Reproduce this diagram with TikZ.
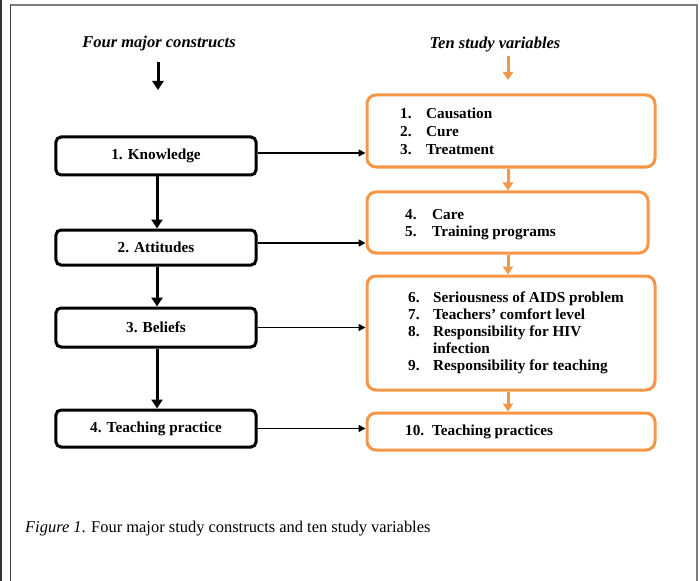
\documentclass[tikz,border=0pt]{standalone}
\usepackage{fontspec}
\setmainfont{Liberation Serif}
\usetikzlibrary{arrows.meta}
\definecolor{orng}{RGB}{247,150,70}
\definecolor{frm}{RGB}{125,125,125}
\begin{document}
\begin{tikzpicture}[x=1bp,y=-1bp,
 cbox/.style={draw=black, line width=3bp, rounded corners=5bp, minimum width=200bp, inner sep=0pt, font=\bfseries\fontsize{15.3}{17}\selectfont},
 vbox/.style={draw=orng, line width=3bp, rounded corners=9bp, inner sep=0pt},
 blarrow/.style={line width=3bp, -{Triangle[width=11bp,length=9bp]}},
 orarrow/.style={draw=orng, line width=3bp, -{Triangle[width=10bp,length=8bp]}},
 harrow/.style={line width=1.5bp, -{Triangle[width=7bp,length=7bp]}},
 lst/.style={anchor=base west, inner sep=0pt, font=\bfseries\fontsize{15.3}{18}\selectfont},
 hdr/.style={anchor=base, inner sep=0pt, font=\bfseries\itshape\fontsize{16.6}{18}\selectfont},
]
\useasboundingbox (0,0) rectangle (700,581);
% frame
\draw[line width=1.5bp, black!80] (1,0) -- (1,581);
\draw[line width=1.5bp, frm] (10.5,581) -- (10.5,5) -- (697,5) -- (697,581);
\draw[line width=1.5bp, black!75] (10.5,581) -- (10.5,5);

% headers
\node[hdr] (h1) at (159,48) {Four major constructs};
\node[hdr] (h2) at (495,49) {Ten study variables};
\coordinate (h1s) at (158,62);
\coordinate (h1e) at (158,90);
\coordinate (h2s) at (508,56);
\coordinate (h2e) at (508,80);
\draw[blarrow] (h1s) -- (h1e);
\draw[orarrow] (h2s) -- (h2e);

% left constructs
\node[cbox, minimum height=38bp] (k) at (156,156) {1. Knowledge};
\node[cbox, minimum height=35bp] (a) at (156,247.5) {2. Attitudes};
\node[cbox, minimum height=39bp] (b) at (156,327.5) {3. Beliefs};
\node[cbox, minimum height=37bp] (t) at (156,428.5) {4. Teaching practice};

\draw[blarrow] ([xshift=1bp]k.south) -- ([xshift=1bp]a.north);
\draw[blarrow] ([xshift=1bp]a.south) -- ([xshift=1bp]b.north);
\draw[blarrow] ([xshift=1bp]b.south) -- ([xshift=1bp]t.north);

% right variables
\node[vbox, minimum width=288bp, minimum height=72bp] (v1) at (511,131) {};
\node[vbox, minimum width=281bp, minimum height=61bp] (v2) at (507.5,222.5) {};
\node[vbox, minimum width=288bp, minimum height=114bp] (v3) at (511,333) {};
\node[vbox, minimum width=288bp, minimum height=37bp] (v4) at (511,431.5) {};

\node[lst] (v1t) at (400,119) {\begin{tabular}[t]{@{}p{26bp}@{}l@{}}
1. & Causation\\
2. & Cure\\
3. & Treatment
\end{tabular}};
\node[lst] (v2t) at (405,219) {\begin{tabular}[t]{@{}p{27bp}@{}l@{}}
4. & Care\\
5. & Training programs
\end{tabular}};
\node[lst, font=\bfseries\fontsize{15.3}{17.3}\selectfont] (v3t) at (408,302) {\begin{tabular}[t]{@{}p{25bp}@{}l@{}}
6. & Seriousness of AIDS problem\\
7. & Teachers’ comfort level\\
8. & Responsibility for HIV\\
   & infection\\
9. & Responsibility for teaching
\end{tabular}};
\node[lst] (v4t) at (405,435) {\begin{tabular}[t]{@{}p{27bp}@{}l@{}}
10. & Teaching practices
\end{tabular}};

\draw[orarrow] (v1.south -| h2e) -- (v2.north -| h2e);
\draw[orarrow] (v2.south -| h2e) -- (v3.north -| h2e);
\draw[orarrow] (v3.south -| h2e) -- (v4.north -| h2e);

% horizontal connectors
\draw[harrow] ([yshift=3bp]k.east) -- ([yshift=3bp]k.east -| v1.west);
\draw[harrow] ([yshift=4.5bp]a.east) -- ([yshift=4.5bp]a.east -| v2.west);
\draw[harrow] (b.east) -- (b.east -| v3.west);
\draw[harrow] (t.east) -- (t.east -| v4.west);

% caption
\node[anchor=base west, inner sep=0pt, font=\fontsize{16.5}{18}\selectfont] (cap) at (25,532) {\textit{Figure 1}. Four major study constructs and ten study variables};
\end{tikzpicture}
\end{document}
